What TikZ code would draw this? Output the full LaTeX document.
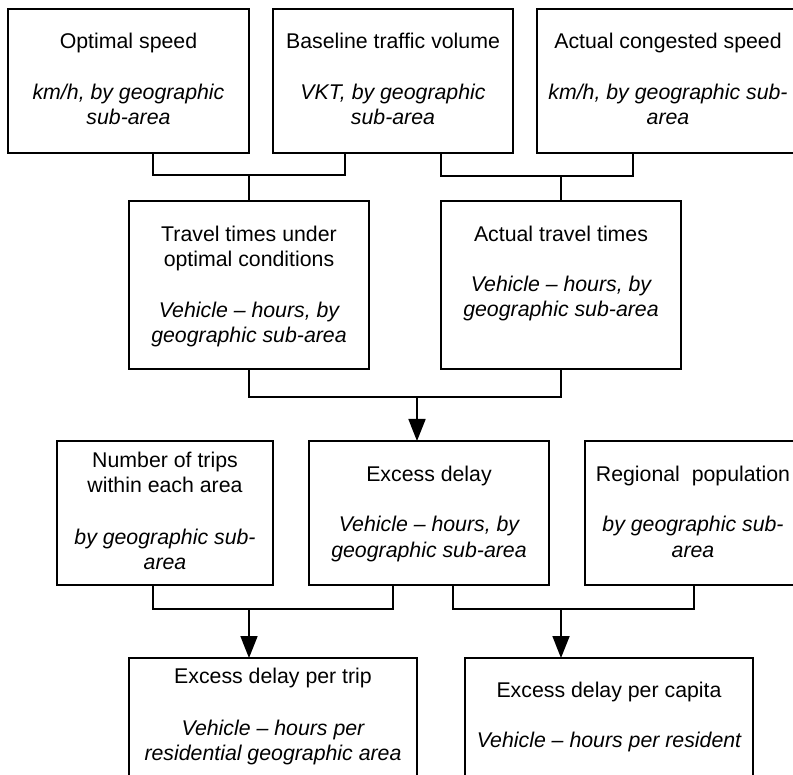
\documentclass[tikz,border=0pt]{standalone}
\usepackage{fontspec}
\setmainfont{Liberation Sans}
\usetikzlibrary{arrows.meta}
\begin{document}
\begin{tikzpicture}[x=1pt,y=-1pt,
  box/.style={draw,line width=1.8pt,rectangle,inner sep=0pt,outer sep=0pt},
  txt/.style={anchor=base,inner sep=0pt,font=\fontsize{21.3}{25}\selectfont},
  sub/.style={txt,font=\fontsize{21.3}{25}\selectfont\itshape},
  wire/.style={line width=1.8pt},
  feed/.style={wire,-{Triangle[width=17pt,length=22pt]}}]
\path[use as bounding box,clip] (0,0) rectangle (793,775);

% input boxes
\node[box,minimum width=241pt,minimum height=144pt] (opt)  at (128.5,81) {};
\node[box,minimum width=240pt,minimum height=144pt] (base) at (393,81) {};
\node[box,minimum width=262pt,minimum height=144pt] (cong) at (668,81) {};

\node[txt] (opt1) at (128.5,49) {Optimal speed};
\node[sub] (opt2) at (128.5,100) {km/h, by geographic};
\node[sub] (opt3) at (128.5,125) {sub-area};

\node[txt] (base1) at (393,49) {Baseline traffic volume};
\node[sub] (base2) at (393,100) {VKT, by geographic};
\node[sub] (base3) at (393,125) {sub-area};

\node[txt] (cong1) at (668,49) {Actual congested speed};
\node[sub] (cong2) at (668,100) {km/h, by geographic sub-};
\node[sub] (cong3) at (668,125) {area};

% travel times
\node[box,minimum width=240pt,minimum height=168pt] (tto) at (249,285) {};
\node[box,minimum width=240pt,minimum height=168pt] (att) at (561,285) {};

\node[txt] (tto1) at (249,242) {Travel times under};
\node[txt] (tto2) at (249,267) {optimal conditions};
\node[sub] (tto3) at (249,318) {Vehicle -- hours, by};
\node[sub] (tto4) at (249,343) {geographic sub-area};

\node[txt] (att1) at (561,242) {Actual travel times};
\node[sub] (att2) at (561,292) {Vehicle -- hours, by};
\node[sub] (att3) at (561,317) {geographic sub-area};

% delay and population
\node[box,minimum width=216pt,minimum height=144pt] (trips) at (165,513) {};
\node[box,minimum width=240pt,minimum height=144pt] (ed)    at (429,513) {};
\node[box,minimum width=216pt,minimum height=144pt] (pop)   at (693,513) {};

\node[txt] (trips1) at (165,468) {Number of trips};
\node[txt] (trips2) at (165,493) {within each area};
\node[sub] (trips3) at (165,544) {by geographic sub-};
\node[sub] (trips4) at (165,569) {area};

\node[txt] (ed1) at (429,482) {Excess delay};
\node[sub] (ed2) at (429,532) {Vehicle -- hours, by};
\node[sub] (ed3) at (429,557) {geographic sub-area};

\node[txt] (pop1) at (693,482) {Regional\ \ population};
\node[sub] (pop2) at (693,532) {by geographic sub-};
\node[sub] (pop3) at (693,557) {area};

% results
\node[box,minimum width=288pt,minimum height=146pt] (dpt) at (273,731) {};
\node[box,minimum width=288pt,minimum height=146pt] (dpc) at (609,731) {};

\node[txt] (dpt1) at (273,683) {Excess delay per trip};
\node[sub] (dpt2) at (273,735) {Vehicle -- hours per};
\node[sub] (dpt3) at (273,760) {residential geographic area};

\node[txt] (dpc1) at (609,697) {Excess delay per capita};
\node[sub] (dpc2) at (609,747) {Vehicle -- hours per resident};

% junction points
\coordinate (ja) at (249,175);
\coordinate (jb) at (561,176);
\coordinate (jc) at (417,397);
\coordinate (jd) at (249,609);
\coordinate (je) at (561,609);

% connectors
\draw[wire] ([xshift=24.5pt]opt.south) |- (ja) -| ([xshift=-48pt]base.south);
\draw[wire] (ja) -- (tto.north);
\draw[wire] ([xshift=48pt]base.south) |- (jb) -| ([xshift=-35pt]cong.south);
\draw[wire] (jb) -- (att.north);

\draw[wire] (tto.south) |- (jc) -| (att.south);
\draw[feed] (jc) -- (jc |- ed.north);

\draw[wire] ([xshift=-12pt]trips.south) |- (jd) -| ([xshift=-36pt]ed.south);
\draw[feed] (jd) -- (jd |- dpt.north);

\draw[wire] ([xshift=24pt]ed.south) |- (je) -| ([xshift=1pt]pop.south);
\draw[feed] (je) -- (je |- dpc.north);
\end{tikzpicture}
\end{document}
